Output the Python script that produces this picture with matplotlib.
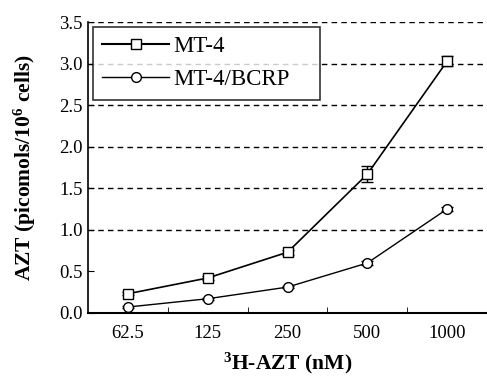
import numpy as np
import matplotlib
matplotlib.use("Agg")
import matplotlib.pyplot as plt
from matplotlib.lines import Line2D

plt.rcParams["font.family"] = ["Liberation Serif", "DejaVu Serif"]
plt.rcParams["mathtext.fontset"] = "custom"
plt.rcParams["mathtext.rm"] = "Liberation Serif"
plt.rcParams["mathtext.bf"] = "Liberation Serif:bold"
plt.rcParams["mathtext.default"] = "bf"

# data
doses = ["62.5", "125", "250", "500", "1000"]
mt4 = [0.23, 0.42, 0.73, 1.67, 3.03]
mt4_err = [0.02, 0.02, 0.03, 0.10, 0.06]
bcrp = [0.07, 0.17, 0.31, 0.60, 1.25]
bcrp_err = [0.01, 0.01, 0.01, 0.03, 0.02]
grid_levels = [1.0, 1.5, 2.0, 2.5, 3.0, 3.5]

x = np.arange(len(doses))

fig = plt.figure(figsize=(4.87, 3.76), dpi=100)
ax = fig.add_axes([0.181, 0.168, 0.819, 0.773])

for lv in grid_levels:
    ax.axhline(lv, color="black", linestyle=(0, (4, 3)), linewidth=1.0, zorder=1)

ax.errorbar(x, mt4, yerr=mt4_err, color="black", marker="s", markersize=7,
            markerfacecolor="white", markeredgecolor="black", linewidth=1.2,
            capsize=4, elinewidth=1, zorder=3)
ax.errorbar(x, bcrp, yerr=bcrp_err, color="black", marker="o", markersize=7,
            markerfacecolor="white", markeredgecolor="black", linewidth=1.0,
            capsize=4, elinewidth=1, zorder=3)

ax.set_xlim(-0.5, 4.5)
ax.set_ylim(0, 3.5)
ax.set_xticks(x)
ax.set_xticklabels(doses)
ax.set_xticks(x[:-1] + 0.5, minor=True)
ax.set_yticks(np.arange(0, 3.51, 0.5))
ax.set_yticklabels([f"{v:.1f}" for v in np.arange(0, 3.51, 0.5)])
ax.tick_params(axis="x", which="major", length=0, labelsize=13.5, pad=9)
ax.tick_params(axis="x", which="minor", direction="in", length=4)
ax.tick_params(axis="y", direction="in", length=4, labelsize=13.5, pad=4)

ax.spines["top"].set_visible(False)
ax.spines["right"].set_visible(False)
ax.spines["left"].set_linewidth(1.2)
ax.spines["bottom"].set_linewidth(1.5)

ax.set_xlabel("$^{3}$H-AZT (nM)", fontsize=15.5, fontweight="bold", labelpad=6)
ax.set_ylabel("AZT (picomols/10$^{6}$ cells)", fontsize=15.5, fontweight="bold",
              labelpad=15)

handles = [
    Line2D([], [], color="black", marker="s", markersize=7, linewidth=1.5,
           markerfacecolor="white", markeredgecolor="black"),
    Line2D([], [], color="black", marker="o", markersize=7, linewidth=1.0,
           markerfacecolor="white", markeredgecolor="black"),
]
leg = ax.legend(handles, ["MT-4", "MT-4/BCRP"], loc="upper left",
                bbox_to_anchor=(0.0125, 0.5, 0.569, 0.485), mode="expand",
                fontsize=16.5, frameon=True, fancybox=False, edgecolor="black",
                handlelength=2.9, handletextpad=0.2, borderpad=0.4,
                labelspacing=0.55, borderaxespad=0)
leg.get_frame().set_linewidth(1.2)

fig.savefig("out.png", dpi=100)
